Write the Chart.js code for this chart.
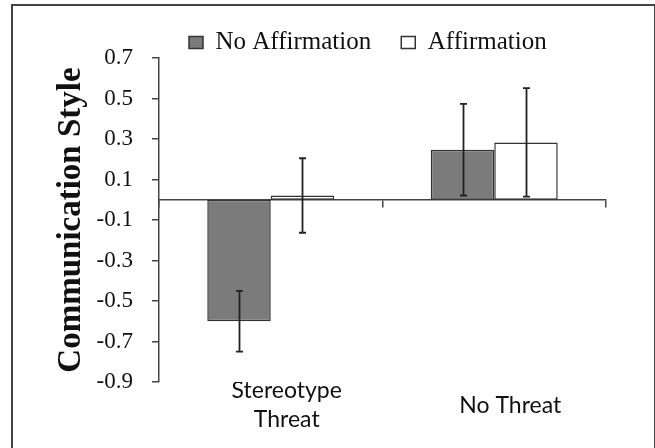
<!DOCTYPE html>
<html>
<head>
<meta charset="utf-8">
<script src="https://cdn.jsdelivr.net/npm/chart.js@4"></script>
<style>
  html, body { margin: 0; padding: 0; background: #fff; }
  #wrap { position: relative; width: 655px; height: 448px; overflow: hidden; }
  #frame {
    position: absolute; left: 11px; top: 4px; width: 645px; height: 470px;
    box-sizing: border-box; border: 2px solid #444; pointer-events: none;
  }
</style>
</head>
<body>
<div id="wrap">
  <canvas id="chart"></canvas>
  <div id="frame"></div>
</div>
<script>
const categories = [['Stereotype', 'Threat'], 'No Threat'];
const noAffirmation = [-0.60, 0.247];
const affirmation = [0.021, 0.283];
const noAffirmationErr = [0.15, 0.226];
const affirmationErr = [0.184, 0.268];
const yTicks = [-0.9, -0.7, -0.5, -0.3, -0.1, 0.1, 0.3, 0.5, 0.7];

const serif = '"Liberation Serif", "Times New Roman", serif';
const axisColor = '#444';

// error bars drawn on top of the bars, using the y scale
const errorBars = {
  id: 'errorBars',
  afterDatasetsDraw(chart) {
    const ctx = chart.ctx;
    const y = chart.scales.y;
    ctx.save();
    ctx.strokeStyle = '#222';
    ctx.lineWidth = 1.8;
    chart.data.datasets.forEach((ds, i) => {
      const meta = chart.getDatasetMeta(i);
      meta.data.forEach((bar, j) => {
        const v = ds.data[j], e = ds.errors[j];
        const top = y.getPixelForValue(v + e);
        const bot = y.getPixelForValue(v - e);
        const x = Math.round(bar.x) + 0.5;
        ctx.beginPath();
        ctx.moveTo(x, top); ctx.lineTo(x, bot);
        ctx.moveTo(x - 3.5, top); ctx.lineTo(x + 3.5, top);
        ctx.moveTo(x - 3.5, bot); ctx.lineTo(x + 3.5, bot);
        ctx.stroke();
      });
    });
    ctx.restore();
  }
};

// keep the legend short so the plot starts right under it
const legendHeight = {
  id: 'legendHeight',
  beforeLayout(chart) {
    const lg = chart.legend;
    if (lg && !lg._patched) {
      const fit = lg.fit;
      lg.fit = function () { fit.call(this); this.height = 58; };
      lg._patched = true;
    }
  }
};

new Chart(document.getElementById('chart'), {
  type: 'bar',
  data: {
    labels: categories,
    datasets: [{
      label: 'No Affirmation',
      data: noAffirmation,
      errors: noAffirmationErr,
      backgroundColor: '#7b7b7b',
      borderColor: '#333',
      borderWidth: 1.5,
      borderSkipped: false
    }, {
      label: 'Affirmation',
      data: affirmation,
      errors: affirmationErr,
      backgroundColor: '#ffffff',
      borderColor: '#333',
      borderWidth: 1.5,
      borderSkipped: false
    }]
  },
  options: {
    responsive: true,
    maintainAspectRatio: false,
    animation: false,
    layout: { padding: { left: 52, right: 49, top: 0, bottom: 0 } },
    datasets: { bar: { categoryPercentage: 0.568, barPercentage: 1 } },
    scales: {
      x: {
        position: 'bottom',
        grid: { display: false, drawTicks: false },
        border: { display: false },
        ticks: {
          color: '#111',
          font: { family: 'Lato, "Liberation Sans", sans-serif', size: 23, lineHeight: 1.26 },
          padding: 9,
          labelOffset: 16,
          crossAlign: 'center',
          maxRotation: 0,
          minRotation: 0
        },
        afterFit: s => { s.height = 66; }
      },
      x2: {
        type: 'category',
        axis: 'x',
        position: { y: 0 },
        offset: true,
        grid: { offset: true, drawOnChartArea: false, tickLength: 7, color: axisColor, lineWidth: 1.5 },
        border: { color: axisColor, width: 1.5 },
        ticks: { display: false },
        afterFit: s => { s.height = 0; }
      },
      y: {
        min: -0.9,
        max: 0.7,
        afterBuildTicks: s => { s.ticks = yTicks.map(v => ({ value: v })); },
        grid: { drawOnChartArea: false, tickLength: 7, color: axisColor, lineWidth: 1.5 },
        border: { color: axisColor, width: 1.5 },
        ticks: {
          color: '#111',
          font: { family: serif, size: 23 },
          padding: 19,
          callback: v => v.toFixed(1)
        },
        title: {
          display: true,
          text: 'Communication Style',
          color: '#111',
          font: { family: serif, size: 33, weight: 'bold', lineHeight: 1.2 },
          padding: 0
        },
        afterFit: s => { s.width = 107; }
      }
    },
    plugins: {
      legend: {
        position: 'top',
        fullSize: false,
        align: 'start',
        labels: {
          color: '#111',
          font: { family: serif, size: 25 },
          boxWidth: 14,
          boxHeight: 12,
          padding: 30
        }
      },
      tooltip: { enabled: false }
    }
  },
  plugins: [errorBars, legendHeight]
});
</script>
</body>
</html>
